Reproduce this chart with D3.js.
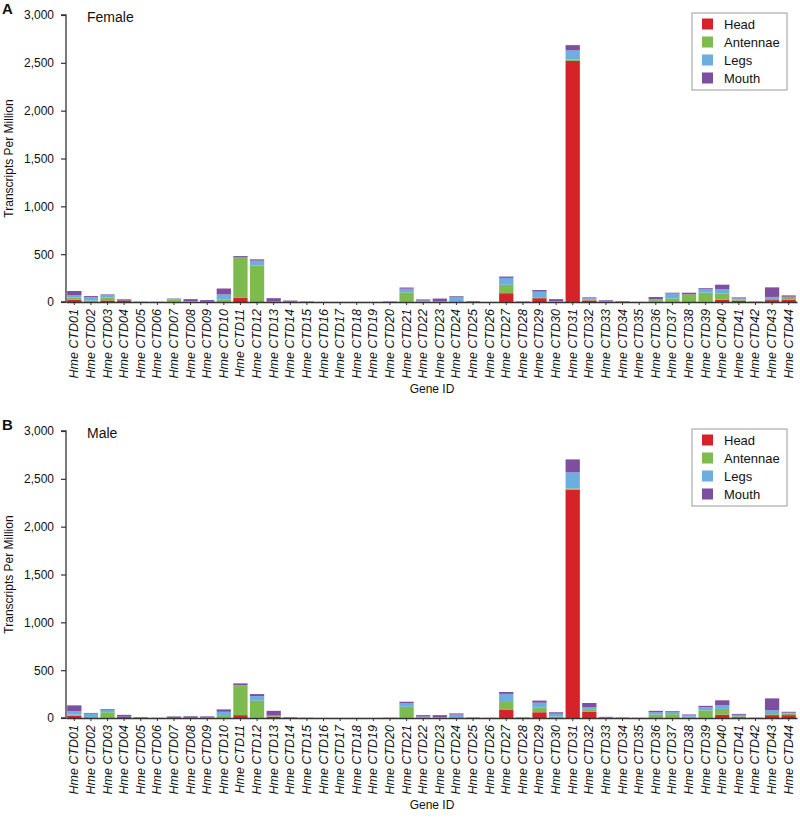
<!DOCTYPE html>
<html><head><meta charset="utf-8">
<script src="https://cdn.jsdelivr.net/npm/d3@7/dist/d3.min.js"></script>
<style>
body{margin:0;background:#fff}
svg{font-family:"Liberation Sans",Arial,sans-serif}
</style>
</head><body>
<svg id="chart" width="800" height="823"></svg>
<script>
const genes = ["CTD01","CTD02","CTD03","CTD04","CTD05","CTD06","CTD07","CTD08","CTD09","CTD10",
  "CTD11","CTD12","CTD13","CTD14","CTD15","CTD16","CTD17","CTD18","CTD19","CTD20",
  "CTD21","CTD22","CTD23","CTD24","CTD25","CTD26","CTD27","CTD28","CTD29","CTD30",
  "CTD31","CTD32","CTD33","CTD34","CTD35","CTD36","CTD37","CTD38","CTD39","CTD40",
  "CTD41","CTD42","CTD43","CTD44"];
const tissues = ["Head","Antennae","Legs","Mouth"];
const tissueColors = ["#d6232a","#7dbb4f","#6caee0","#7e4fa0"];
const yTicks = [0,500,1000,1500,2000,2500,3000];

// Female (panel A)
const femaleHead     = [24,5,17,16,1,1,3,3,2,3, 45,0,2,1,1,0,0,0,0,1, 3,3,3,5,6,0,92,2,40,3, 2520,17,2,5,0,5,3,0,3,24, 14,2,20,24];
const femaleAntennae = [21,10,31,0,0,0,20,2,0,24, 415,380,0,0,0,0,0,0,0,0, 98,2,0,3,0,0,88,0,10,2, 15,7,1,0,0,15,35,80,95,63, 10,0,12,28];
const femaleLegs     = [28,38,24,0,2,1,10,5,1,52, 5,52,3,2,1,0,0,0,0,1, 38,10,5,40,1,0,72,1,58,5, 95,14,3,0,0,10,50,0,40,49, 14,1,21,3];
const femaleMouth    = [42,10,7,12,1,1,4,20,17,62, 15,14,35,12,4,1,1,1,1,4, 12,12,28,12,1,1,14,3,17,20, 55,10,12,2,1,22,9,17,8,45, 10,2,100,14];

// Male (panel B)
const maleHead     = [25,5,5,10,5,1,8,8,5,5, 30,5,15,2,1,0,0,0,0,1, 5,3,3,5,3,1,85,3,60,5, 2385,65,2,2,1,5,5,3,5,35, 8,1,30,30];
const maleAntennae = [10,5,55,0,0,0,0,0,0,25, 305,175,5,0,0,0,0,0,0,0, 112,2,0,3,0,0,92,0,48,10, 15,20,0,0,0,30,35,10,75,60, 10,0,10,15];
const maleLegs     = [35,35,25,3,0,0,0,2,2,35, 10,48,5,1,1,0,0,0,0,1, 38,10,5,28,1,0,75,1,52,30, 167,30,2,0,0,25,25,20,35,40, 15,0,40,10];
const maleMouth    = [62,8,8,20,3,1,8,8,10,25, 17,22,50,5,1,1,1,1,1,2, 15,15,22,12,2,1,20,2,22,15, 136,42,8,3,1,15,8,5,12,50, 10,2,125,10];

const panels = [
  {letter:"A", title:"Female", top:15, bottom:302, series:[femaleHead,femaleAntennae,femaleLegs,femaleMouth]},
  {letter:"B", title:"Male",   top:431, bottom:718, series:[maleHead,maleAntennae,maleLegs,maleMouth]}
];

const svg = d3.select("#chart");
const xLeft = 66, xRight = 797;
const x = d3.scaleBand().domain(genes).range([xLeft, xRight]).paddingInner(0.14).paddingOuter(0.07);

panels.forEach(p => {
  const g = svg.append("g");
  const y = d3.scaleLinear().domain([0,3000]).range([p.bottom, p.top]);
  const table = genes.map((gname,i) => {
    const row = {gene:gname};
    tissues.forEach((t,k) => row[t] = p.series[k][i]);
    return row;
  });
  const stacked = d3.stack().keys(tissues)(table);

  g.selectAll("g.layer").data(stacked).join("g")
    .attr("fill", (d,i) => tissueColors[i])
    .selectAll("rect").data(d => d).join("rect")
    .attr("x", d => x(d.data.gene))
    .attr("width", x.bandwidth())
    .attr("y", d => y(d[1]))
    .attr("height", d => Math.max(0, y(d[0]) - y(d[1])));

  const yAxis = d3.axisLeft(y).tickValues(yTicks).tickFormat(d3.format(",")).tickSize(5).tickPadding(7);
  const ya = g.append("g").attr("transform", `translate(${xLeft},0)`).call(yAxis);
  ya.select(".domain").attr("stroke","#333").attr("stroke-width",1.3).attr("d", `M-5,${p.top}H0V${p.bottom}H-5`);
  ya.selectAll(".tick line").attr("stroke","#333").attr("stroke-width",1.2);
  ya.selectAll(".tick text").attr("font-size",12).attr("fill","#111").attr("font-family","Liberation Sans, Arial, sans-serif");

  const xAxis = d3.axisBottom(x).tickSize(3).tickSizeOuter(0).tickFormat("");
  const xa = g.append("g").attr("transform", `translate(0,${p.bottom})`).call(xAxis);
  xa.select(".domain").attr("stroke","#333").attr("stroke-width",1.3);
  xa.selectAll(".tick line").attr("stroke","#333");
  xa.selectAll(".tick").append("text")
    .attr("transform","translate(4,7) rotate(-90)")
    .attr("text-anchor","end")
    .attr("dy","0")
    .attr("font-size",12.5)
    .attr("font-style","italic")
    .attr("fill","#111")
    .text(d => "Hme " + d);

  g.append("text").attr("x", 432).attr("y", p.bottom + 91)
    .attr("text-anchor","middle").attr("font-size",12).attr("fill","#111").text("Gene ID");
  g.append("text").attr("transform", `translate(13,${(p.top+p.bottom)/2}) rotate(-90)`)
    .attr("text-anchor","middle").attr("font-size",12).attr("fill","#111").text("Transcripts Per Million");

  g.append("text").attr("x", 2).attr("y", p.top - 1).attr("font-size",15).attr("font-weight","bold").attr("fill","#111").text(p.letter);
  g.append("text").attr("x", 87).attr("y", p.top + 7).attr("font-size",14).attr("fill","#111").text(p.title);

  const lg = g.append("g").attr("transform", `translate(692,${p.top - 2})`);
  lg.append("rect").attr("width",95).attr("height",77).attr("fill","#fff").attr("stroke","#999").attr("stroke-width",1);
  tissues.forEach((t,k) => {
    const row = lg.append("g").attr("transform", `translate(10,${11 + k*18})`);
    row.append("rect").attr("x",0).attr("y",-5.5).attr("width",11).attr("height",11).attr("fill",tissueColors[k]);
    row.append("text").attr("x",22).attr("dy","0.35em").attr("font-size",13).attr("fill","#111").text(t);
  });
});
</script>
</body></html>
